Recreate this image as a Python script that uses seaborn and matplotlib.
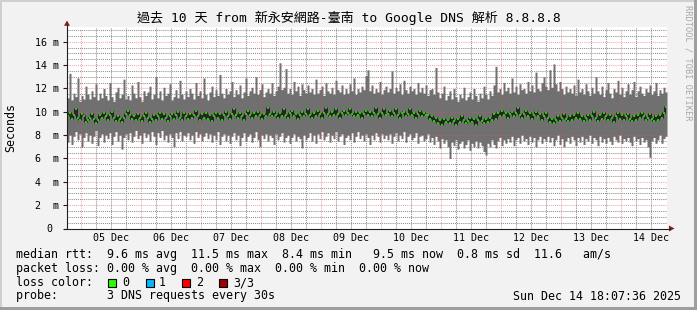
import numpy as np
import matplotlib
matplotlib.use("Agg")
import matplotlib.pyplot as plt
import seaborn as sns
import pandas as pd
from matplotlib.patches import Rectangle, Polygon
from matplotlib.lines import Line2D

# ---------------- data (milliseconds), one value per 48 min ----------------
rtt_max = [
    11.2, 13.3, 11.0, 11.6, 11.3, 12.9, 10.9, 11.4, 11.1, 12.2, 11.5, 11.1, 11.8, 11.3, 12.4, 11.0, 11.6, 11.2, 12.0, 11.4,
    11.0, 12.5, 11.3, 10.9, 11.7, 12.1, 11.2, 11.5, 12.8, 11.1, 11.4, 11.0, 12.3, 11.6, 11.2, 12.6, 11.3, 10.9, 11.8, 11.4,
    11.7, 12.2, 11.1, 11.5, 13.0, 11.2, 11.8, 11.0, 12.1, 11.4, 11.6, 12.4, 11.0, 11.3, 11.9, 11.2, 12.7, 11.5, 11.1, 11.8,
    11.3, 12.0, 11.6, 11.1, 12.5, 11.4, 11.8, 11.2, 12.9, 11.5, 11.0, 11.7, 12.2, 11.3, 11.9, 11.4, 13.2, 11.6, 11.2, 12.0,
    11.5, 11.8, 12.6, 11.3, 11.9, 11.5, 12.3, 11.2, 11.7, 12.9, 11.4, 11.8, 12.1, 11.6, 13.0, 11.5, 11.9, 12.4, 11.3, 11.7,
    12.0, 11.6, 12.5, 11.4, 11.8, 12.2, 14.2, 11.9, 12.1, 13.7, 11.6, 12.0, 11.5, 12.6, 11.8, 12.2, 11.4, 12.4, 11.9, 11.6,
    12.3, 11.7, 12.0, 11.5, 12.8, 11.6, 11.9, 12.2, 11.4, 12.5, 11.8, 11.6, 12.1, 11.5, 12.7, 11.9, 11.7, 12.3, 11.5, 12.0,
    11.6, 12.4, 11.8, 12.9, 11.5, 12.0, 11.7, 12.2, 11.9, 13.1, 13.6, 11.8, 12.3, 11.6, 12.0, 11.7, 12.6, 11.5, 11.9, 12.2,
    11.7, 12.0, 13.5, 11.6, 12.1, 11.8, 12.4, 11.5, 12.7, 11.9, 11.6, 12.2, 11.8, 12.0, 11.5, 12.5, 11.7, 12.1, 11.6, 12.3,
    11.4, 11.9, 12.0, 11.5, 13.8, 11.7, 11.2, 11.6, 12.2, 11.0, 11.4, 11.8, 11.1, 12.0, 11.3, 10.9, 11.5, 11.2, 12.1, 11.0,
    11.3, 11.7, 11.1, 12.0, 11.4, 10.9, 11.6, 11.2, 12.2, 11.5, 11.1, 11.8, 11.4, 12.3, 13.9, 11.7, 12.0, 11.5, 12.5, 11.8,
    12.1, 11.6, 12.9, 11.7, 12.2, 11.5, 12.4, 11.9, 12.0, 11.6, 12.6, 11.8, 12.3, 11.7, 13.4, 12.0, 11.8, 12.5, 13.0, 12.2,
    11.9, 13.6, 12.1, 14.1, 12.4, 11.8, 12.6, 12.0, 11.5, 12.2, 11.7, 12.0, 11.6, 12.3, 11.4, 12.8, 11.7, 12.0, 11.5, 12.4,
    11.8, 11.4, 12.1, 11.6, 13.0, 11.8, 11.5, 12.2, 11.3, 11.9, 12.5, 11.6, 11.2, 12.0, 11.7, 12.7, 11.5, 12.1, 11.3, 11.8,
    12.4, 11.5, 11.9, 12.6, 11.3, 11.8, 12.2, 11.6, 11.4, 12.0, 11.7, 12.3, 11.5, 11.8, 12.5, 11.4, 11.9, 11.6, 12.1, 11.7,
]
rtt_min = [
    7.4, 8.0, 7.2, 7.9, 8.3, 7.6, 8.1, 7.0, 7.8, 8.2, 7.5, 8.0, 7.3, 7.9, 8.4, 7.1, 7.8, 8.1, 7.4, 8.0,
    7.7, 8.2, 7.2, 7.9, 8.3, 7.5, 8.0, 6.8, 7.8, 8.1, 7.6, 8.2, 7.4, 7.9, 8.4, 7.7, 8.0, 7.3, 8.2, 7.8,
    8.1, 7.5, 8.3, 7.9, 7.2, 8.2, 7.8, 8.4, 7.6, 8.0, 7.4, 8.1, 7.8, 7.0, 8.2, 7.7, 8.3, 7.5, 8.0, 7.9,
    8.2, 7.6, 8.0, 7.3, 8.3, 7.8, 8.1, 7.5, 7.9, 8.2, 7.7, 8.1, 7.4, 8.0, 7.6, 8.3, 7.2, 7.9, 8.1, 7.5,
    8.0, 7.3, 7.9, 8.2, 7.6, 8.0, 7.1, 7.8, 8.2, 7.5, 7.9, 8.1, 7.4, 7.8, 8.3, 7.6, 7.0, 8.0, 7.7, 8.1,
    7.5, 8.0, 7.8, 7.2, 8.1, 7.6, 7.9, 8.2, 7.4, 7.8, 8.0, 7.3, 7.8, 8.1, 7.5, 7.9, 7.7, 6.9, 8.0, 7.6,
    7.8, 8.2, 7.5, 8.0, 7.3, 8.1, 7.7, 8.3, 7.6, 7.9, 8.2, 7.4, 8.0, 7.7, 8.3, 7.5, 7.9, 8.1, 7.2, 7.8,
    8.0, 7.6, 8.2, 7.4, 7.9, 8.3, 7.7, 8.0, 7.5, 8.1, 7.8, 7.2, 8.0, 7.6, 8.2, 7.9, 7.4, 8.1, 7.7, 8.0,
    7.6, 8.1, 7.3, 7.9, 8.2, 7.5, 8.0, 7.7, 8.3, 7.4, 7.9, 8.1, 7.6, 7.8, 8.2, 7.3, 7.9, 8.0, 7.5, 7.7,
    8.1, 7.4, 7.8, 7.2, 7.9, 7.5, 6.9, 7.7, 7.3, 7.6, 7.0, 6.0, 7.4, 7.1, 7.6, 6.8, 7.3, 7.5, 6.9, 7.2,
    7.6, 6.7, 7.3, 7.0, 7.5, 6.9, 7.4, 7.1, 6.6, 6.3, 7.3, 7.0, 7.6, 7.2, 6.9, 7.5, 7.8, 7.1, 7.6, 7.3,
    7.7, 7.4, 7.9, 7.1, 7.6, 7.8, 7.3, 8.0, 7.5, 7.7, 7.2, 7.9, 7.4, 7.8, 7.0, 7.6, 7.9, 7.3, 7.7, 7.5,
    7.9, 7.4, 7.8, 7.1, 7.6, 8.0, 7.2, 7.7, 7.0, 7.5, 7.8, 7.3, 7.9, 7.6, 7.1, 7.8, 7.4, 7.9, 7.2, 7.7,
    7.5, 8.0, 7.3, 7.8, 7.6, 7.1, 7.9, 7.4, 7.7, 7.3, 7.8, 7.5, 7.2, 7.9, 7.6, 7.4, 8.0, 7.3, 7.7, 7.5,
    7.8, 7.4, 7.1, 7.9, 7.5, 7.7, 7.2, 7.8, 7.4, 7.6, 7.0, 6.1, 7.5, 7.8, 7.3, 7.6, 8.0, 7.3, 7.7, 7.9,
]
rtt_median = [
    9.6, 9.9, 9.4, 9.7, 10.2, 9.5, 9.3, 9.8, 9.6, 9.1, 9.3, 9.5, 9.8, 9.4, 9.0, 9.3, 9.7, 9.5, 9.9, 9.6,
    9.3, 9.7, 10.0, 9.5, 9.2, 9.6, 9.4, 9.1, 9.5, 9.8, 10.1, 9.7, 9.4, 9.6, 9.3, 9.8, 9.5, 9.2, 9.6, 9.9,
    9.5, 9.1, 9.4, 9.7, 9.3, 9.6, 9.9, 9.4, 9.8, 9.5, 9.2, 9.6, 9.8, 9.4, 9.7, 10.0, 9.5, 9.3, 9.9, 9.6,
    9.4, 9.8, 9.5, 9.7, 10.1, 9.6, 9.3, 9.8, 9.5, 9.9, 9.4, 9.7, 9.2, 9.6, 9.9, 9.5, 9.8, 9.3, 9.7, 10.0,
    9.6, 9.4, 9.8, 10.2, 9.7, 9.5, 9.9, 9.6, 9.3, 9.8, 10.1, 9.7, 9.5, 9.9, 9.6, 10.0, 9.7, 9.4, 9.8, 9.6,
    10.3, 9.8, 9.6, 10.0, 9.7, 9.5, 9.9, 9.6, 10.2, 9.7, 9.5, 9.9, 10.1, 9.6, 9.8, 9.4, 9.7, 10.0, 9.6, 9.8,
    10.2, 9.7, 9.5, 9.9, 9.6, 10.1, 9.8, 9.5, 9.9, 10.3, 9.8, 9.6, 10.0, 9.7, 10.2, 9.8, 9.5, 9.9, 10.1, 9.7,
    9.9, 10.2, 9.8, 9.6, 10.0, 9.7, 9.9, 9.5, 9.8, 10.1, 9.7, 10.0, 9.6, 9.9, 10.3, 9.8, 9.5, 9.9, 10.2, 9.7,
    9.8, 10.1, 9.6, 9.9, 10.2, 9.7, 9.5, 9.9, 10.0, 9.6, 9.8, 10.2, 9.7, 9.9, 9.5, 9.8, 10.1, 9.6, 9.9, 9.7,
    9.7, 9.4, 9.6, 9.2, 9.5, 9.0, 9.3, 8.9, 9.4, 9.1, 9.3, 9.0, 9.5, 9.2, 8.9, 9.4, 9.1, 9.6, 9.3, 9.0,
    9.2, 9.5, 9.1, 9.4, 8.9, 9.3, 9.6, 9.2, 9.0, 9.4, 9.1, 9.5, 9.3, 9.8, 9.4, 9.9, 9.6, 10.1, 9.7, 9.9,
    9.5, 9.8, 10.0, 9.6, 9.9, 10.3, 9.7, 9.5, 9.8, 10.1, 9.6, 9.9, 9.4, 9.7, 10.0, 9.6, 9.8, 9.3, 9.6, 9.9,
    9.5, 9.1, 9.4, 9.0, 9.3, 9.6, 9.2, 9.5, 9.8, 9.4, 9.2, 9.6, 9.3, 9.7, 9.5, 9.9, 9.4, 9.6, 9.2, 9.5,
    9.7, 9.3, 9.6, 10.0, 9.5, 9.2, 9.7, 9.4, 9.9, 9.6, 9.3, 9.7, 9.5, 9.1, 9.6, 9.9, 9.4, 9.7, 9.3, 9.6,
    9.8, 9.4, 9.2, 9.6, 9.3, 9.7, 9.5, 9.9, 9.6, 9.3, 9.5, 9.8, 9.4, 9.2, 9.6, 9.3, 9.7, 9.5, 9.9, 10.4,
]
day_labels = ["05 Dec", "06 Dec", "07 Dec", "08 Dec", "09 Dec",
              "10 Dec", "11 Dec", "12 Dec", "13 Dec", "14 Dec"]
y_tick_values = [0, 2, 4, 6, 8, 10, 12, 14, 16]
y_tick_labels = ["0 ", "2  m", "4  m", "6  m", "8  m", "10 m", "12 m", "14 m", "16 m"]
loss_labels = ["0", "1", "2", "3/3"]
loss_colors = ["#26ff00", "#00b8ff", "#ff0000", "#a00000"]

title = "過去 10 天 from 新永安網路-臺南 to Google DNS 解析 8.8.8.8"
legend_lines = [
    "median rtt:  9.6 ms avg  11.5 ms max  8.4 ms min   9.5 ms now  0.8 ms sd  11.6   am/s",
    "packet loss: 0.00 % avg  0.00 % max  0.00 % min  0.00 % now",
    "loss color:",
    "probe:       3 DNS requests every 30s",
]
timestamp = "Sun Dec 14 18:07:36 2025"

# ---------------- figure ----------------
W, H = 697, 310
sns.set_theme(style="white")
MONO = ["DejaVu Sans Mono", "Noto Sans CJK TC"]
plt.rcParams["font.family"] = MONO

BG = "#f2f2f2"
fig = plt.figure(figsize=(W / 100, H / 100), dpi=100, facecolor=BG)

px_left, px_right, px_top, px_bottom = 67, 667, 27, 228.5
ax = fig.add_axes([px_left / W, (H - px_bottom) / H,
                   (px_right - px_left) / W, (px_bottom - px_top) / H])
ax.set_facecolor("white")

# time axis in hours since Dec 4 00:00
t_start, span = 18.5, 240.0
n = len(rtt_median)
step = span / n
edges = t_start + step * np.arange(n + 1)

lo = np.r_[rtt_min, rtt_min[-1]]
hi = np.r_[rtt_max, rtt_max[-1]]
ax.fill_between(edges, lo, hi, step="post", color="#707070", lw=0, zorder=2)

ax.set_xlim(t_start, t_start + span)
y_top = (px_bottom - px_top) / 11.67
ax.set_ylim(0, y_top)

# minor grid below the smoke, major (red) grid on top of it
ax.set_axisbelow(True)
ax.set_yticks(y_tick_values, y_tick_labels)
ax.set_yticks(np.arange(0, 17.01, 0.5), minor=True)
midnights = np.arange(24, 241, 24)
ax.set_xticks(midnights, [""] * len(midnights))
ax.set_xticks(np.arange(24, 258, 6), minor=True)
ax.grid(True, which="minor", color=(0.56, 0.56, 0.56, 0.45), lw=0.75,
        linestyle=(0, (1, 1)))
ax.grid(False, which="major")
MAJ = (0.90, 0.33, 0.33, 0.5)
ax.hlines(y_tick_values[1:], t_start, t_start + span, colors=[MAJ],
          lw=0.75, linestyles=[(0, (1, 1))], zorder=3)
ax.vlines(midnights, 0, 17.0, colors=[MAJ],
          lw=0.75, linestyles=[(0, (1, 1))], zorder=3)

med_df = pd.DataFrame({"t": edges, "median": np.r_[rtt_median, rtt_median[-1]]})
sns.lineplot(data=med_df, x="t", y="median", drawstyle="steps-post",
             estimator=None, color="#101010", lw=1.1, ax=ax, zorder=4)
ax.hlines(rtt_median, edges[:-1], edges[1:], color=loss_colors[0], lw=1.1, zorder=5)
ax.set_xlabel("")
ax.set_ylabel("")

for s in ["top", "right", "left", "bottom"]:
    ax.spines[s].set_visible(False)

ax.tick_params(axis="y", which="major", length=3, width=0.8, color="#1f1f1f",
               pad=2.5, labelsize=7.2, labelcolor="black", left=True)
ax.tick_params(axis="y", which="minor", length=0)
ax.tick_params(axis="x", which="both", length=0, labelsize=7.2)
for lab in ax.get_yticklabels():
    lab.set_fontfamily(MONO)

noons = midnights + 12
for h, lab in zip(noons, day_labels):
    ax.text(h, -0.047, lab, transform=ax.get_xaxis_transform(), ha="center",
            va="center", fontsize=7.2, family=MONO, color="black")

# ---------------- overlay in pixel coordinates ----------------
ov = fig.add_axes([0, 0, 1, 1], zorder=10)
ov.set_xlim(0, W)
ov.set_ylim(H, 0)
ov.axis("off")
ov.patch.set_alpha(0)

# 3D frame
ov.add_patch(Rectangle((0, 0), W, 2, color="#cfcfcf", lw=0))
ov.add_patch(Rectangle((0, 0), 2, H, color="#cfcfcf", lw=0))
ov.add_patch(Rectangle((0, H - 3), W, 3, color="#9e9e9e", lw=0))
ov.add_patch(Rectangle((W - 3, 0), 3, H, color="#9e9e9e", lw=0))

# axes lines and arrows
ov.add_line(Line2D([67, 67], [228.5, 25], color="#1f1f1f", lw=0.8))
ov.add_line(Line2D([64, 670], [228.5, 228.5], color="#1f1f1f", lw=0.8))
ov.add_patch(Polygon([[64, 25.8], [70, 25.8], [67, 20.5]], closed=True,
                     color="#801f1f", lw=0))
ov.add_patch(Polygon([[669, 225.5], [669, 231.5], [674.5, 228.5]], closed=True,
                     color="#801f1f", lw=0))

# title
ov.text(348.5, 22, title, ha="center", va="baseline", fontsize=9.4,
        family=MONO, color="black")
# y label
ov.text(11, 127, "Seconds", rotation=90, ha="center", va="center",
        fontsize=8.4, family=MONO, color="black")
# watermark
ov.text(688, 5, "RRDTOOL / TOBI OETIKER", rotation=-90, ha="center", va="top",
        fontsize=6.2, family=MONO, color="#a8a8a8")

# legend
baselines = [258.3, 271.8, 286.2, 299.5]
for line, yb in zip(legend_lines, baselines):
    ov.text(16, yb, line, ha="left", va="baseline", fontsize=8.42,
            family=MONO, color="black")
box_x = [108, 146, 182, 219]
lab_x = [122, 159, 196, 233]
for bx, lx, col, lab in zip(box_x, lab_x, loss_colors, loss_labels):
    ov.add_patch(Rectangle((bx, 278.5), 8, 8, facecolor=col, edgecolor="black", lw=0.8))
    ov.text(lx, baselines[2], lab, ha="left", va="baseline", fontsize=8.42,
            family=MONO, color="black")
ov.text(681, baselines[3], timestamp, ha="right", va="baseline", fontsize=8.42,
        family=MONO, color="black")

fig.savefig("out.png", dpi=100, facecolor=BG)
